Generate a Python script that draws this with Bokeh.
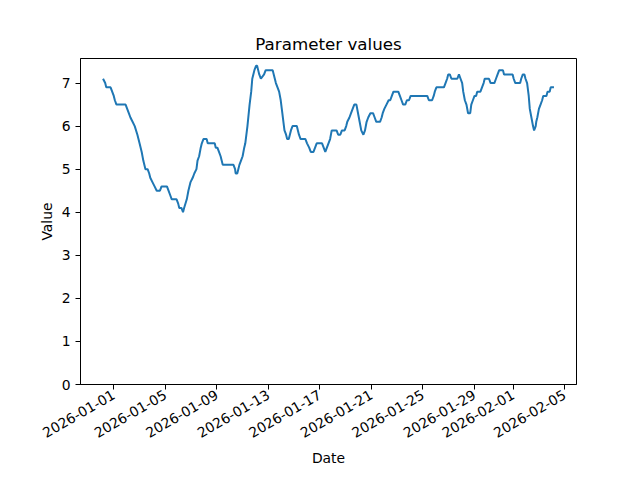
import math
import pandas as pd
from bokeh.plotting import figure
from bokeh.models import Range1d, FixedTicker, DatetimeTickFormatter, ColumnDataSource
from bokeh.embed import file_html
from bokeh.resources import INLINE

# ---- data ----
start_time = "2025-12-31 04:00"
hours = [0, 4, 6, 14, 17, 20, 22, 25, 42, 45, 48, 51, 55, 59, 64, 68, 72, 75, 79, 83,
         86, 88, 92, 96, 100, 106, 109, 119, 122, 125, 128, 137, 140, 142, 146, 149, 151,
         156, 159, 163, 167, 170, 174, 176, 179, 182, 184, 187, 193, 195, 208, 210, 213,
         216, 219, 221, 223, 243, 246, 247, 250, 252, 254, 257, 260, 263, 265, 269, 273,
         276, 278, 280, 282, 285, 287, 289, 291, 294, 300, 303, 316, 318, 320, 322, 325,
         328, 331, 333, 336, 338, 341, 343, 346, 348, 350, 353, 361, 363, 365, 368, 377,
         380, 384, 387, 392, 395, 398, 408, 411, 414, 417, 420, 423, 426, 435, 438, 442,
         445, 450, 453, 455, 459, 462, 465, 468, 472, 475, 478, 481, 485, 488, 491, 494,
         498, 503, 506, 509, 516, 519, 521, 524, 528, 532, 535, 538, 541, 550, 553, 556,
         559, 563, 566, 570, 573, 604, 607, 613, 616, 618, 621, 635, 638, 641, 643, 646,
         649, 660, 663, 666, 669, 671, 674, 677, 680, 684, 686, 689, 692, 695, 697, 703,
         706, 709, 711, 719, 722, 729, 732, 735, 738, 745, 747, 763, 765, 768, 777, 779,
         782, 785, 787, 790, 793, 795, 798, 801, 803, 806, 807, 809, 812, 815, 818, 820,
         826, 828, 832, 834, 840]
values = [7.1, 7.0, 6.9, 6.9, 6.8, 6.7, 6.6, 6.5, 6.5, 6.4, 6.3, 6.2, 6.1, 6.0, 5.8, 5.6, 5.4, 5.2, 5.0, 5.0,
          4.9, 4.8, 4.7, 4.6, 4.5, 4.5, 4.6, 4.6, 4.5, 4.4, 4.3, 4.3, 4.2, 4.1, 4.1, 4.0, 4.1,
          4.3, 4.5, 4.7, 4.8, 4.9, 5.0, 5.2, 5.3, 5.5, 5.6, 5.7, 5.7, 5.6, 5.6, 5.5, 5.5,
          5.4, 5.3, 5.2, 5.1, 5.1, 5.0, 4.9, 4.9, 5.0, 5.1, 5.2, 5.3, 5.5, 5.6, 6.0, 6.5,
          6.8, 7.1, 7.2, 7.3, 7.4, 7.4, 7.3, 7.2, 7.1, 7.2, 7.3, 7.3, 7.2, 7.1, 7.0, 6.9,
          6.8, 6.6, 6.4, 6.1, 5.9, 5.8, 5.7, 5.7, 5.8, 5.9, 6.0, 6.0, 5.9, 5.8, 5.7, 5.7,
          5.6, 5.5, 5.4, 5.4, 5.5, 5.6, 5.6, 5.5, 5.4, 5.5, 5.6, 5.7, 5.9, 5.9, 5.8, 5.8,
          5.9, 5.9, 6.0, 6.1, 6.2, 6.3, 6.4, 6.5, 6.5, 6.3, 6.1, 5.9, 5.8, 5.9, 6.1, 6.2,
          6.3, 6.3, 6.2, 6.1, 6.1, 6.2, 6.3, 6.4, 6.5, 6.6, 6.6, 6.7, 6.8, 6.8, 6.7, 6.6,
          6.5, 6.5, 6.6, 6.6, 6.7, 6.7, 6.6, 6.6, 6.7, 6.8, 6.9, 6.9, 7.0, 7.1, 7.2, 7.2,
          7.1, 7.1, 7.2, 7.1, 7.0, 6.8, 6.6, 6.5, 6.3, 6.3, 6.5, 6.6, 6.7, 6.7, 6.8, 6.8,
          6.9, 7.0, 7.1, 7.1, 7.0, 7.0, 7.1, 7.2, 7.3, 7.3, 7.2, 7.2, 7.1, 7.0, 7.0, 7.1,
          7.2, 7.2, 7.1, 7.0, 6.7, 6.4, 6.2, 6.0, 5.9, 6.0, 6.1, 6.2, 6.4, 6.5, 6.6, 6.7,
          6.7, 6.8, 6.8, 6.9, 6.9]
x_tick_labels = ["2026-01-01", "2026-01-05", "2026-01-09", "2026-01-13", "2026-01-17",
                 "2026-01-21", "2026-01-25", "2026-01-29", "2026-02-01", "2026-02-05"]
y_ticks = [0, 1, 2, 3, 4, 5, 6, 7]

times = pd.Timestamp(start_time) + pd.to_timedelta(hours, unit="h")
src = ColumnDataSource(dict(t=times, v=values))

t_ms = [ts.value / 1e6 for ts in times]
pad = 0.05 * (max(t_ms) - min(t_ms))
y_top = max(values) + 0.05 * (max(values) - min(values))

FONT = "DejaVu Sans"

p = figure(x_axis_type="datetime", output_backend="svg", toolbar_location=None,
           frame_width=496, frame_height=326,
           min_border_left=80, min_border_right=56, min_border_top=58, min_border_bottom=88,
           x_range=Range1d(min(t_ms) - pad, max(t_ms) + pad),
           y_range=Range1d(0, y_top),
           title="Parameter values")

p.line("t", "v", source=src, line_color="#1f77b4", line_width=2.0)

p.background_fill_color = "white"
p.border_fill_color = "white"
p.outline_line_color = "black"
p.outline_line_width = 1
p.outline_line_alpha = 1
p.xgrid.visible = False
p.ygrid.visible = False

p.title.align = "center"
p.title.text_font = FONT
p.title.text_font_size = "16.7px"
p.title.text_font_style = "normal"
p.title.text_color = "black"
p.title.standoff = 9

p.xaxis.ticker = FixedTicker(ticks=[pd.Timestamp(d).value / 1e6 for d in x_tick_labels])
fmt = "%Y-%m-%d"
p.xaxis.formatter = DatetimeTickFormatter(milliseconds=fmt, seconds=fmt, minsec=fmt, minutes=fmt,
                                          hourmin=fmt, hours=fmt, days=fmt, months=fmt, years=fmt)
p.xaxis.major_label_orientation = math.pi / 6
p.yaxis.ticker = FixedTicker(ticks=y_ticks)

for ax in (p.xaxis, p.yaxis):
    ax.axis_line_color = "black"
    ax.major_tick_line_color = "black"
    ax.major_tick_in = 0
    ax.major_tick_out = 5
    ax.minor_tick_line_color = None
    ax.major_label_text_font = FONT
    ax.major_label_text_font_size = "13.9px"
    ax.major_label_text_color = "black"
    ax.axis_label_text_font = FONT
    ax.axis_label_text_font_size = "13.9px"
    ax.axis_label_text_font_style = "normal"
    ax.axis_label_text_color = "black"

p.xaxis.axis_label = "Date"
p.yaxis.axis_label = "Value"
p.xaxis.major_label_standoff = 4
p.yaxis.major_label_standoff = 5
p.xaxis.axis_label_standoff = 4
p.yaxis.axis_label_standoff = 4

open("out.html", "w").write(file_html(p, INLINE))
